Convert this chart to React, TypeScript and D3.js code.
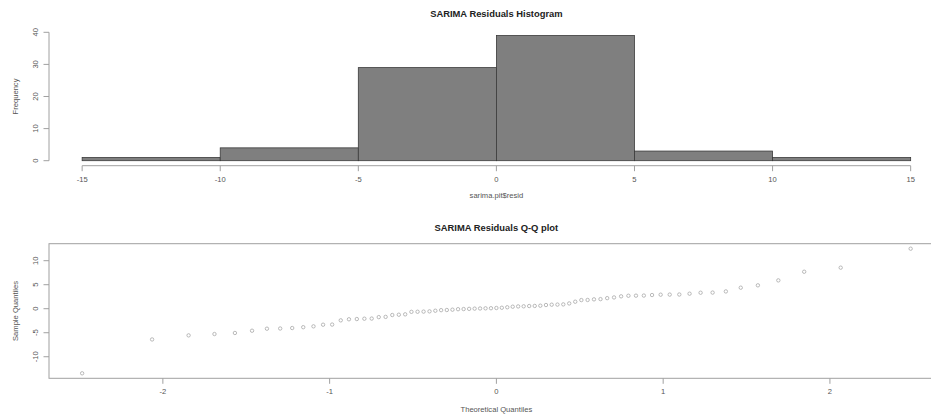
import React from "react";
import * as d3 from "d3";

// Sorted SARIMA residuals, n = 77
const residuals: number[] = [
  -13.45, -6.4, -5.55, -5.27, -5.05, -4.58, -4.16, -4.12, -4.02, -3.85,
  -3.67, -3.33, -3.3, -2.42, -2.2, -2.15, -2.08, -2.05, -1.75, -1.7,
  -1.31, -1.25, -1.17, -0.65, -0.63, -0.6, -0.55, -0.42, -0.3, -0.27,
  -0.2, -0.1, -0.07, -0.03, 0.02, 0.05, 0.08, 0.1, 0.15, 0.2,
  0.3, 0.42, 0.48, 0.5, 0.56, 0.58, 0.63, 0.77, 0.84, 0.86,
  0.9, 1.1, 1.46, 1.8, 1.82, 1.95, 2.0, 2.2, 2.35, 2.58,
  2.7, 2.72, 2.74, 2.85, 2.92, 2.94, 2.96, 3.13, 3.33, 3.36,
  3.6, 4.38, 4.87, 5.9, 7.7, 8.55, 12.5,
];

const histBreaks = [-15, -10, -5, 0, 5, 10, 15];
const histXTicks = [-15, -10, -5, 0, 5, 10, 15];
const histYTicks = [0, 10, 20, 30, 40];
const qqXTicks = [-2, -1, 0, 1, 2];
const qqYTicks = [-10, -5, 0, 5, 10];

const histTitle = "SARIMA Residuals Histogram";
const histXLabel = "sarima.pit$resid";
const histYLabel = "Frequency";
const qqTitle = "SARIMA Residuals Q-Q plot";
const qqXLabel = "Theoretical Quantiles";
const qqYLabel = "Sample Quantiles";

// inverse standard normal CDF (Acklam)
function qnorm(p: number): number {
  const a = [-3.969683028665376e1, 2.209460984245205e2, -2.759285104469687e2, 1.38357751867269e2, -3.066479806614716e1, 2.506628277459239];
  const b = [-5.447609879822406e1, 1.615858368580409e2, -1.556989798598866e2, 6.680131188771972e1, -1.328068155288572e1];
  const c = [-7.784894002430293e-3, -3.223964580411365e-1, -2.400758277161838, -2.549732539343734, 4.374664141464968, 2.938163982698783];
  const d = [7.784695709041462e-3, 3.224671290700398e-1, 2.445134137142996, 3.754408661907416];
  const pl = 0.02425;
  if (p < pl) {
    const q = Math.sqrt(-2 * Math.log(p));
    return (((((c[0] * q + c[1]) * q + c[2]) * q + c[3]) * q + c[4]) * q + c[5]) / ((((d[0] * q + d[1]) * q + d[2]) * q + d[3]) * q + 1);
  }
  if (p > 1 - pl) {
    const q = Math.sqrt(-2 * Math.log(1 - p));
    return -(((((c[0] * q + c[1]) * q + c[2]) * q + c[3]) * q + c[4]) * q + c[5]) / ((((d[0] * q + d[1]) * q + d[2]) * q + d[3]) * q + 1);
  }
  const q = p - 0.5;
  const r = q * q;
  return ((((((a[0] * r + a[1]) * r + a[2]) * r + a[3]) * r + a[4]) * r + a[5]) * q) / (((((b[0] * r + b[1]) * r + b[2]) * r + b[3]) * r + b[4]) * r + 1);
}

const ext = (lo: number, hi: number): [number, number] => {
  const e = (hi - lo) * 0.04;
  return [lo - e, hi + e];
};

const W = 931;
const H = 416;
const LEFT = 49;
const RIGHT = 943.8;
const FONT = "'Liberation Sans', Arial, Helvetica, sans-serif";
const AXIS = "#a0a0a0";
const TEXT = "#555";

export default function App() {
  // Histogram
  const bins = d3.bin().domain([histBreaks[0], histBreaks[histBreaks.length - 1]]).thresholds(histBreaks)(residuals);
  const maxCount = d3.max(bins, (b) => b.length) ?? 0;
  const hx = d3.scaleLinear().domain(ext(histBreaks[0], histBreaks[histBreaks.length - 1])).range([LEFT, RIGHT]);
  const hy = d3.scaleLinear().domain(ext(0, maxCount)).range([165.7, 30.5]);
  const hBottom = 165.7;

  // Q-Q
  const n = residuals.length;
  const sorted = [...residuals].sort((a, b) => a - b);
  const a = n <= 10 ? 3 / 8 : 0.5;
  const theo = sorted.map((_, i) => qnorm((i + 1 - a) / (n + 1 - 2 * a)));
  const qx = d3.scaleLinear().domain(ext(d3.min(theo)!, d3.max(theo)!)).range([LEFT, RIGHT]);
  const qy = d3.scaleLinear().domain(ext(d3.min(sorted)!, d3.max(sorted)!)).range([378.3, 243.7]);
  const qTop = 243.7;
  const qBottom = 378.3;

  const tick = 5.5;

  return (
    <svg width={W} height={H} style={{ position: "absolute", left: 0, top: 0, background: "#fff" }} fontFamily={FONT}>
      <rect x={0} y={0} width={W} height={H} fill="#fff" />
      {/* Histogram */}
      <text x={(hx(-15) + hx(15)) / 2} y={14} dy="0.35em" textAnchor="middle" fontWeight="bold" fontSize={9.4} fill="#222">
        {histTitle}
      </text>
      {bins.map((b, i) => (
        <rect
          key={i}
          x={hx(b.x0!)}
          y={hy(b.length)}
          width={hx(b.x1!) - hx(b.x0!)}
          height={hy(0) - hy(b.length)}
          fill="#7f7f7f"
          stroke="#3a3a3a"
          strokeWidth={0.8}
        />
      ))}
      <line x1={hx(histXTicks[0])} x2={hx(histXTicks[histXTicks.length - 1])} y1={hBottom} y2={hBottom} stroke={AXIS} />
      {histXTicks.map((t) => (
        <g key={t}>
          <line x1={hx(t)} x2={hx(t)} y1={hBottom} y2={hBottom + tick} stroke={AXIS} />
          <text x={hx(t)} y={179} dy="0.35em" textAnchor="middle" fontSize={7.6} fill={TEXT}>
            {t}
          </text>
        </g>
      ))}
      <text x={(hx(-15) + hx(15)) / 2} y={195.3} dy="0.35em" textAnchor="middle" fontSize={7.6} fill={TEXT}>
        {histXLabel}
      </text>
      <line x1={LEFT} x2={LEFT} y1={hy(histYTicks[0])} y2={hy(histYTicks[histYTicks.length - 1])} stroke={AXIS} />
      {histYTicks.map((t) => (
        <g key={t}>
          <line x1={LEFT} x2={LEFT - tick} y1={hy(t)} y2={hy(t)} stroke={AXIS} />
          <text transform={`translate(35,${hy(t)}) rotate(-90)`} dy="0.35em" textAnchor="middle" fontSize={7.6} fill={TEXT}>
            {t}
          </text>
        </g>
      ))}
      <text transform={`translate(15.7,${(hy(0) + hy(40)) / 2}) rotate(-90)`} dy="0.35em" textAnchor="middle" fontSize={7.6} fill={TEXT}>
        {histYLabel}
      </text>

      {/* Q-Q plot */}
      <text x={qx(0)} y={227.3} dy="0.35em" textAnchor="middle" fontWeight="bold" fontSize={9.4} fill="#222">
        {qqTitle}
      </text>
      <rect x={LEFT} y={qTop} width={RIGHT - LEFT} height={qBottom - qTop} fill="none" stroke={AXIS} />
      {qqXTicks.map((t) => (
        <g key={t}>
          <line x1={qx(t)} x2={qx(t)} y1={qBottom} y2={qBottom + tick} stroke={AXIS} />
          <text x={qx(t)} y={391.7} dy="0.35em" textAnchor="middle" fontSize={7.6} fill={TEXT}>
            {t}
          </text>
        </g>
      ))}
      <text x={qx(0)} y={409} dy="0.35em" textAnchor="middle" fontSize={7.6} fill={TEXT}>
        {qqXLabel}
      </text>
      {qqYTicks.map((t) => (
        <g key={t}>
          <line x1={LEFT} x2={LEFT - tick} y1={qy(t)} y2={qy(t)} stroke={AXIS} />
          <text transform={`translate(35,${qy(t)}) rotate(-90)`} dy="0.35em" textAnchor="middle" fontSize={7.6} fill={TEXT}>
            {t}
          </text>
        </g>
      ))}
      <text transform={`translate(15.7,${(qTop + qBottom) / 2}) rotate(-90)`} dy="0.35em" textAnchor="middle" fontSize={7.6} fill={TEXT}>
        {qqYLabel}
      </text>
      {sorted.map((v, i) => (
        <circle key={i} cx={qx(theo[i])} cy={qy(v)} r={1.7} fill="none" stroke="#a8a8a8" strokeWidth={0.8} />
      ))}
    </svg>
  );
}
